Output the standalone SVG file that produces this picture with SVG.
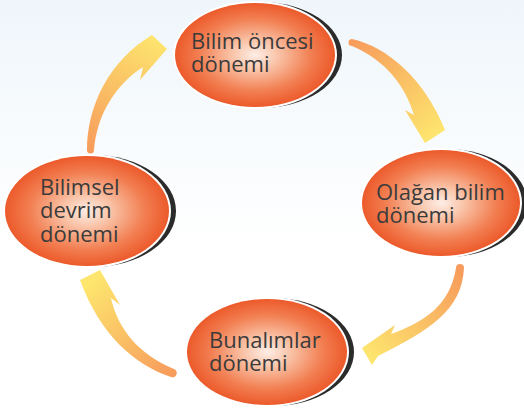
<svg xmlns="http://www.w3.org/2000/svg" width="524" height="410" viewBox="0 0 524 410">
<defs>
<linearGradient id="bg" x1="0" y1="0" x2="0" y2="1">
<stop offset="0" stop-color="#eff6fb"/>
<stop offset="0.6" stop-color="#ffffff"/>
<stop offset="1" stop-color="#ffffff"/>
</linearGradient>
<radialGradient id="ball" cx="0.5" cy="0.5" r="0.5">
<stop offset="0" stop-color="#fdeee6"/>
<stop offset="0.3" stop-color="#f9c2a6"/>
<stop offset="0.7" stop-color="#f27f52"/>
<stop offset="1" stop-color="#ec5a2b"/>
</radialGradient>
<linearGradient id="gA" gradientUnits="userSpaceOnUse" x1="90" y1="150" x2="160" y2="40">
<stop offset="0" stop-color="#f79c5c"/>
<stop offset="1" stop-color="#fde56e"/>
</linearGradient>
<linearGradient id="gB" gradientUnits="userSpaceOnUse" x1="352" y1="42" x2="430" y2="140">
<stop offset="0" stop-color="#f79c5c"/>
<stop offset="1" stop-color="#fde56e"/>
</linearGradient>
<linearGradient id="gC" gradientUnits="userSpaceOnUse" x1="460" y1="270" x2="368" y2="355">
<stop offset="0" stop-color="#f79c5c"/>
<stop offset="1" stop-color="#fde56e"/>
</linearGradient>
<linearGradient id="gD" gradientUnits="userSpaceOnUse" x1="172" y1="374" x2="95" y2="280">
<stop offset="0" stop-color="#f79c5c"/>
<stop offset="1" stop-color="#fde56e"/>
</linearGradient>
</defs>
<style>
.shadow{fill:#2b2b2b}
.ring{fill:#ffffff}
.ball{fill:url(#ball)}
.lbl{font-family:"Open Sans","Noto Sans","DejaVu Sans",sans-serif;font-size:22px;fill:#3b3b3b}
</style>
<rect x="0" y="0" width="524" height="410" fill="url(#bg)"/>
<g id="connectors">
<path d="M 87,150 C 87,105 110,60 152,35 L 167,49 L 140,80 L 143,67 C 115,85 97,115 94,150 A 3.5 3.5 0 0 1 87,150 Z" fill="url(#gA)"/>
<path d="M 352,39 C 388,47 425,80 445,130 L 425,143 L 405,110 L 414,115 C 405,85 385,60 352,46 A 3.5 3.5 0 0 1 352,39 Z" fill="url(#gB)"/>
<path d="M 464,268 C 462,310 430,330 378,356 L 372,365 L 362,348 L 395,325 L 391,334 C 425,322 450,305 456,268 A 4 4 0 0 1 464,268 Z" fill="url(#gC)"/>
<path d="M 171,377 C 135,365 100,335 80,280 L 100,270 L 120,305 L 111,298 C 118,330 140,355 174,369 A 4 4 0 0 1 171,377 Z" fill="url(#gD)"/>
</g>
<g id="node-bilim-oncesi">
<ellipse class="shadow" cx="261" cy="55" rx="81" ry="53"/>
<ellipse class="ring" cx="255" cy="55" rx="82" ry="54"/>
<ellipse class="ball" cx="255" cy="55" rx="80" ry="52"/>
<text class="lbl" x="191" y="48.5">Bilim öncesi<tspan x="191" dy="23">dönemi</tspan></text>
</g>
<g id="node-olagan-bilim">
<ellipse class="shadow" cx="447" cy="203" rx="80" ry="54"/>
<ellipse class="ring" cx="441" cy="203" rx="81" ry="55"/>
<ellipse class="ball" cx="441" cy="203" rx="79" ry="53"/>
<text class="lbl" x="376" y="200">Olağan bilim<tspan x="376" dy="22.5">dönemi</tspan></text>
</g>
<g id="node-bunalimlar">
<ellipse class="shadow" cx="273" cy="352" rx="81" ry="54"/>
<ellipse class="ring" cx="267" cy="352" rx="82" ry="55"/>
<ellipse class="ball" cx="267" cy="352" rx="80" ry="53"/>
<text class="lbl" x="209" y="347.5">Bunalımlar<tspan x="209" dy="23.5">dönemi</tspan></text>
</g>
<g id="node-bilimsel-devrim">
<ellipse class="shadow" cx="93" cy="211" rx="83" ry="56"/>
<ellipse class="ring" cx="87" cy="211" rx="84" ry="57"/>
<ellipse class="ball" cx="87" cy="211" rx="82" ry="55"/>
<text class="lbl" x="40" y="195">Bilimsel<tspan x="40" dy="23">devrim</tspan><tspan x="40" dy="23.5">dönemi</tspan></text>
</g>
</svg>
